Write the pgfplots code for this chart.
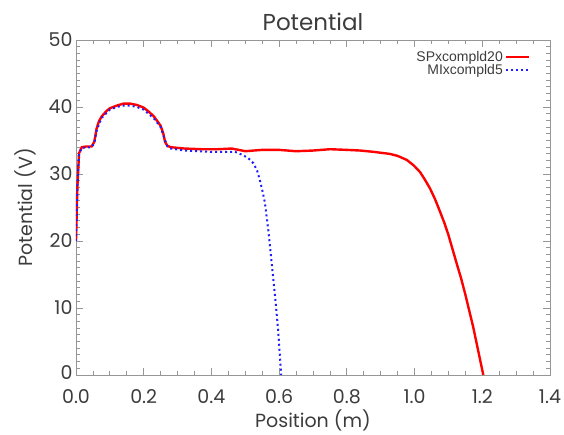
\documentclass[border=0pt]{standalone}
\usepackage{pgfplots}
\pgfplotsset{compat=1.18}
\usepackage{fontspec}
\setmainfont{Poppins}
\newfontfamily\legendfont{Liberation Sans}
\definecolor{textgray}{RGB}{60,60,60}
\definecolor{axisgray}{RGB}{150,150,150}
\definecolor{cred}{RGB}{255,0,0}
\definecolor{cblue}{RGB}{30,30,255}
\begin{document}
\begin{tikzpicture}
\useasboundingbox (-76pt,-60pt) rectangle (488pt,375pt);
\begin{axis}[
  scale only axis, width=474pt, height=335pt,
  xmin=0, xmax=1.4, ymin=0, ymax=50,
  xtick={0,0.2,0.4,0.6,0.8,1.0,1.2,1.4},
  ytick={0,10,20,30,40,50},
  minor x tick num=3, minor y tick num=9,
  xticklabel style={anchor=base, yshift=-29pt, /pgf/number format/fixed, /pgf/number format/fixed zerofill, /pgf/number format/precision=1},
  yticklabel={\pgfmathtruncatemacro\isz{\tick<1}\ifnum\isz=1 \raisebox{5pt}{0}\else\pgfmathprintnumber{\tick}\fi},
  /pgf/number format/assume math mode=true,
  tick label style={font=\fontsize{19}{22}\selectfont, text=textgray},
  major tick length=7pt, minor tick length=4pt,
  axis line style={axisgray, line width=0.8pt},
  every tick/.style={axisgray, line width=0.8pt},
  title={Potential},
  title style={font=\fontsize{23}{26}\selectfont, text=textgray},
  xlabel={Position (m)}, ylabel={Potential (V)},
  label style={font=\fontsize{19}{22}\selectfont, text=textgray},
  xlabel style={at={(rel axis cs:0.5,0)}, anchor=base, yshift=-53pt},
  ylabel style={yshift=6pt},
  legend plot pos=right,
  legend cell align=right,
  legend image code/.code={\draw[#1] (0pt,0pt) -- (23pt,0pt);},
  legend style={at={(rel axis cs:0.965,0.98)}, anchor=north east, draw=none, fill=none,
    font=\legendfont\fontsize{14}{15}\selectfont, text=textgray, row sep=-2pt},
]
\addplot[cred, line width=2.4pt] coordinates {
(0,20.1) (0.004,28) (0.009,33.1) (0.017,34.0) (0.03,34.1) (0.046,34.1) (0.054,34.8)
(0.061,36.8) (0.068,37.9) (0.076,38.6) (0.09,39.4) (0.10,39.8) (0.12,40.2) (0.14,40.5)
(0.16,40.5) (0.18,40.3) (0.20,39.9) (0.215,39.3) (0.23,38.6) (0.24,37.9) (0.25,37.2)
(0.258,36) (0.263,34.8) (0.27,34.2) (0.28,34.0) (0.32,33.8) (0.37,33.7) (0.42,33.7)
(0.46,33.8) (0.48,33.6) (0.50,33.4) (0.55,33.6) (0.60,33.6) (0.65,33.4) (0.70,33.5)
(0.75,33.7) (0.80,33.6) (0.84,33.5) (0.88,33.3) (0.927,33.0) (0.95,32.7) (0.977,32.1)
(0.997,31.3) (1.016,30.3) (1.03,29.2) (1.045,27.9) (1.06,26.3) (1.075,24.4)
(1.088,22.7) (1.100,20.9) (1.112,18.8) (1.124,16.7) (1.137,14.5) (1.149,12.2)
(1.161,9.7) (1.173,7.2) (1.188,3.6) (1.203,0)
};
\addlegendentry{SPxcompld20}
\addplot[cblue, line width=2pt, dash pattern=on 2pt off 3pt] coordinates {
(0,20) (0.004,28) (0.009,33) (0.017,33.9) (0.046,34.0) (0.054,34.6) (0.061,36.5)
(0.076,38.4) (0.10,39.6) (0.12,40.0) (0.14,40.2) (0.16,40.2) (0.18,40.0) (0.20,39.6)
(0.23,38.3) (0.25,37.0) (0.26,35.5) (0.27,34.1) (0.28,33.8) (0.32,33.5) (0.40,33.3)
(0.47,33.3) (0.494,32.8) (0.51,32.3) (0.524,31.6) (0.535,30.5) (0.543,29.1) (0.551,27.4)
(0.558,25.7) (0.568,21.6) (0.578,16.7) (0.588,11.7) (0.597,6.7) (0.606,0)
};
\addlegendentry{MIxcompld5}
\end{axis}
\end{tikzpicture}
\end{document}
